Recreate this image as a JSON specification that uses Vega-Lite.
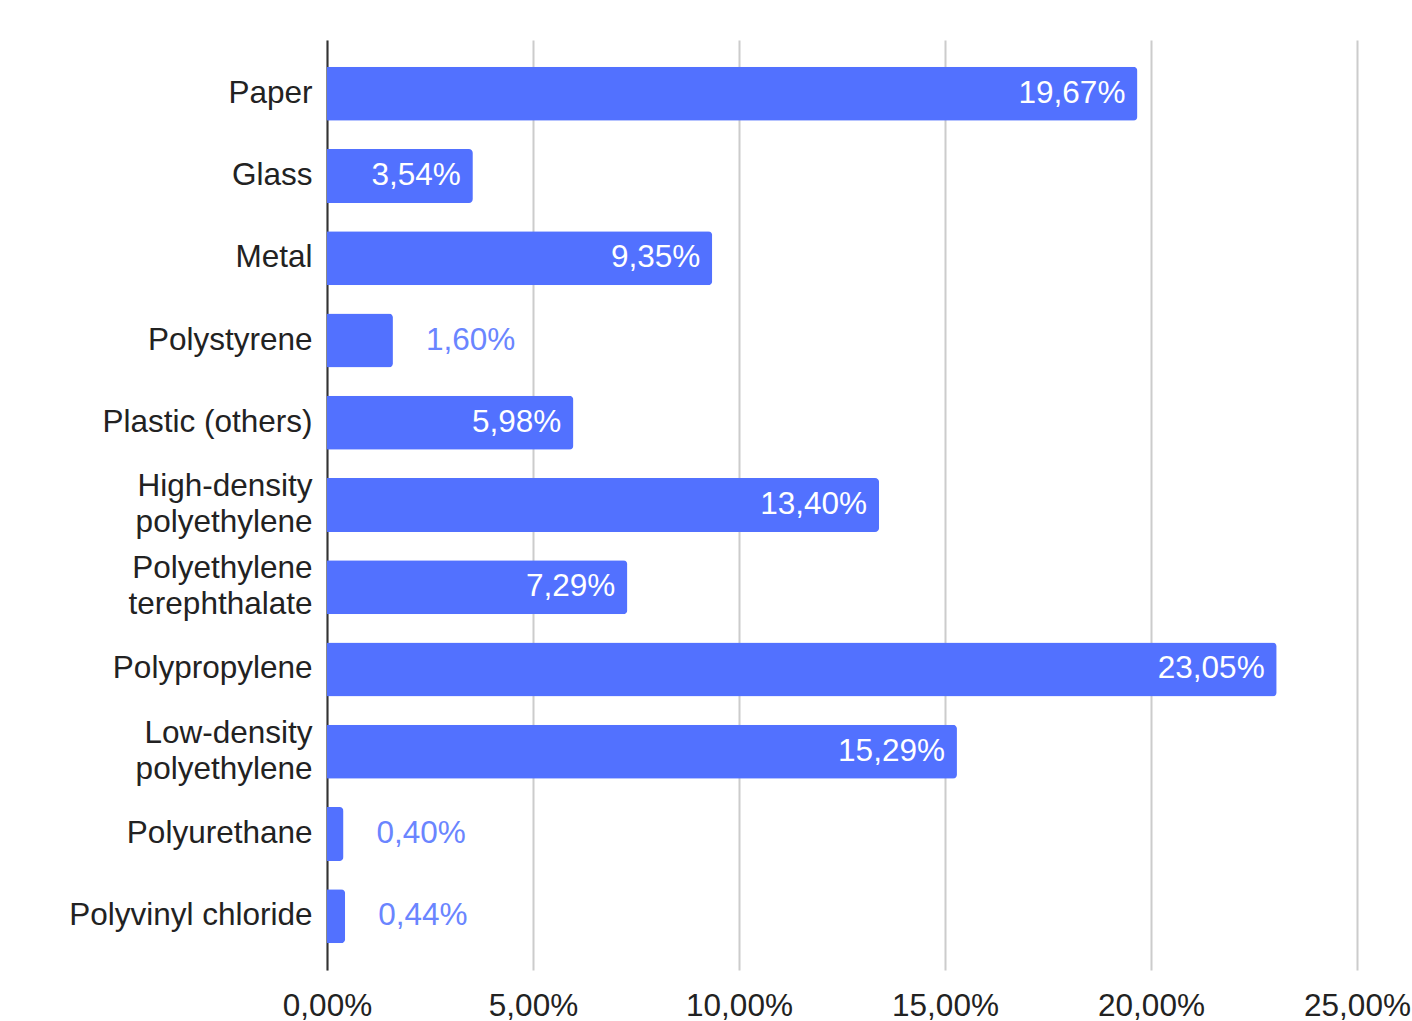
{
  "$schema": "https://vega.github.io/schema/vega-lite/v6.json",
  "autosize": {"type": "none"},
  "padding": {"left": 327, "top": 40, "right": 55, "bottom": 51},
  "width": 1030,
  "height": 930,
  "background": "white",
  "config": {
    "view": {"stroke": null},
    "font": "Liberation Sans"
  },
  "data": {
    "values": [
      {"material": "Paper", "pct": 19.67},
      {"material": "Glass", "pct": 3.54},
      {"material": "Metal", "pct": 9.35},
      {"material": "Polystyrene", "pct": 1.60},
      {"material": "Plastic (others)", "pct": 5.98},
      {"material": "High-density polyethylene", "pct": 13.40},
      {"material": "Polyethylene terephthalate", "pct": 7.29},
      {"material": "Polypropylene", "pct": 23.05},
      {"material": "Low-density polyethylene", "pct": 15.29},
      {"material": "Polyurethane", "pct": 0.40},
      {"material": "Polyvinyl chloride", "pct": 0.44}
    ]
  },
  "encoding": {
    "y": {
      "field": "material",
      "type": "nominal",
      "sort": null,
      "scale": {"paddingInner": 0.344, "paddingOuter": 0.326},
      "axis": {
        "title": null,
        "ticks": false,
        "domainColor": "#333333",
        "domainWidth": 2,
        "labelFont": "Liberation Sans",
        "labelFontSize": 31.5,
        "labelColor": "#222222",
        "labelPadding": 15,
        "labelLineHeight": 36,
        "labelLimit": 400,
        "labelOffset": {"condition": {"test": "indexof(datum.value, ' polyethylene') >= 0 || datum.value == 'Polyethylene terephthalate'", "value": -18}, "value": 0},
        "labelExpr": "datum.value == 'High-density polyethylene' ? ['High-density', 'polyethylene'] : datum.value == 'Polyethylene terephthalate' ? ['Polyethylene', 'terephthalate'] : datum.value == 'Low-density polyethylene' ? ['Low-density', 'polyethylene'] : datum.value"
      }
    }
  },
  "layer": [
    {
      "mark": {"type": "bar", "color": "#5271FF", "cornerRadiusEnd": 4},
      "encoding": {
        "x": {
          "field": "pct",
          "type": "quantitative",
          "scale": {"domain": [0, 25], "nice": false},
          "axis": {
            "title": null,
            "values": [0, 5, 10, 15, 20, 25],
            "ticks": false,
            "domain": false,
            "grid": true,
            "gridColor": "#cccccc",
            "gridWidth": 2,
            "labelFont": "Liberation Sans",
            "labelFontSize": 31.5,
            "labelColor": "#222222",
            "labelPadding": 20,
            "labelFlush": false,
            "labelExpr": "replace(format(datum.value, '.2f'), '.', ',') + '%'"
          }
        }
      }
    },
    {
      "transform": [{"filter": "datum.pct >= 3"}],
      "mark": {
        "type": "text",
        "align": "right",
        "baseline": "middle",
        "dx": -12,
        "color": "white",
        "font": "Liberation Sans",
        "fontSize": 31.5,
        "text": {"expr": "replace(format(datum.pct, '.2f'), '.', ',') + '%'"}
      },
      "encoding": {
        "x": {"field": "pct", "type": "quantitative"}
      }
    },
    {
      "transform": [{"filter": "datum.pct < 3"}],
      "mark": {
        "type": "text",
        "align": "left",
        "baseline": "middle",
        "dx": 33,
        "color": "#6A85FF",
        "font": "Liberation Sans",
        "fontSize": 31.5,
        "text": {"expr": "replace(format(datum.pct, '.2f'), '.', ',') + '%'"}
      },
      "encoding": {
        "x": {"field": "pct", "type": "quantitative"}
      }
    }
  ]
}
